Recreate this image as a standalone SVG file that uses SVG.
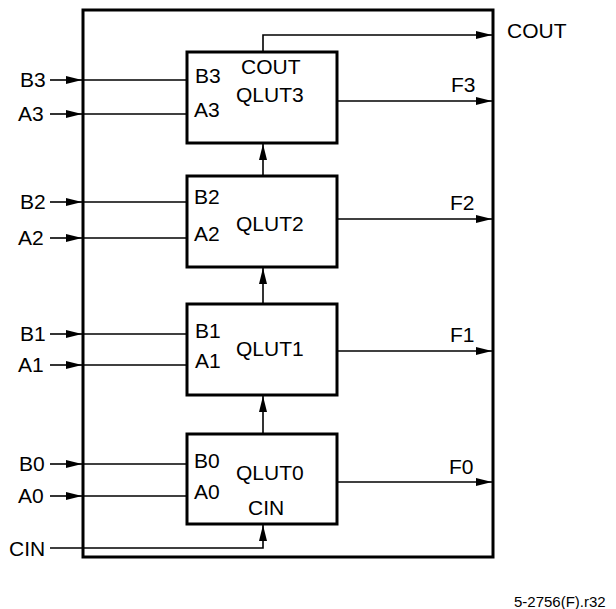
<svg xmlns="http://www.w3.org/2000/svg" width="616" height="609" viewBox="0 0 616 609">
<defs>
<style>
text{font-family:"Liberation Sans",Arial,sans-serif;font-size:21px;fill:#000}
.blk{fill:#fff;stroke:#000;stroke-width:3}
.ln{fill:none;stroke:#000;stroke-width:1.6}
.ft{font-size:15px}
</style>
<marker id="ah" viewBox="0 0 16 8" refX="16" refY="4" markerWidth="16" markerHeight="8" markerUnits="userSpaceOnUse" orient="auto">
<path d="M0,0L16,4L0,8Z" fill="#000"/>
</marker>
</defs>
<rect id="outer" x="83" y="10" width="410" height="547" fill="none" stroke="#000" stroke-width="3"/>
<g id="connectors">
<line class="ln" x1="50" y1="80" x2="82" y2="80" marker-end="url(#ah)"/>
<line class="ln" x1="82" y1="80" x2="187" y2="80"/>
<line class="ln" x1="50" y1="114" x2="82" y2="114" marker-end="url(#ah)"/>
<line class="ln" x1="82" y1="114" x2="187" y2="114"/>
<line class="ln" x1="50" y1="202" x2="82" y2="202" marker-end="url(#ah)"/>
<line class="ln" x1="82" y1="202" x2="187" y2="202"/>
<line class="ln" x1="50" y1="238" x2="82" y2="238" marker-end="url(#ah)"/>
<line class="ln" x1="82" y1="238" x2="187" y2="238"/>
<line class="ln" x1="50" y1="334" x2="82" y2="334" marker-end="url(#ah)"/>
<line class="ln" x1="82" y1="334" x2="187" y2="334"/>
<line class="ln" x1="50" y1="365" x2="82" y2="365" marker-end="url(#ah)"/>
<line class="ln" x1="82" y1="365" x2="187" y2="365"/>
<line class="ln" x1="50" y1="464" x2="82" y2="464" marker-end="url(#ah)"/>
<line class="ln" x1="82" y1="464" x2="187" y2="464"/>
<line class="ln" x1="50" y1="496" x2="82" y2="496" marker-end="url(#ah)"/>
<line class="ln" x1="82" y1="496" x2="187" y2="496"/>
<polyline class="ln" points="50,548 263,548 263,525" marker-end="url(#ah)"/>
<line class="ln" x1="263" y1="434" x2="263" y2="396" marker-end="url(#ah)"/>
<line class="ln" x1="263" y1="304" x2="263" y2="268" marker-end="url(#ah)"/>
<line class="ln" x1="263" y1="176" x2="263" y2="144" marker-end="url(#ah)"/>
<polyline class="ln" points="263,52 263,35 492,35" marker-end="url(#ah)"/>
<line class="ln" x1="337" y1="101" x2="492" y2="101" marker-end="url(#ah)"/>
<line class="ln" x1="337" y1="219" x2="492" y2="219" marker-end="url(#ah)"/>
<line class="ln" x1="337" y1="351" x2="492" y2="351" marker-end="url(#ah)"/>
<line class="ln" x1="337" y1="482" x2="492" y2="482" marker-end="url(#ah)"/>
</g>
<g id="qlut3">
<rect class="blk" x="187" y="52" width="150" height="91"/>
<text x="241" y="74">COUT</text>
<text x="236" y="102">QLUT3</text>
<text x="195" y="83">B3</text>
<text x="194" y="117">A3</text>
</g>
<g id="qlut2">
<rect class="blk" x="187" y="176" width="150" height="91"/>
<text x="236" y="231">QLUT2</text>
<text x="194" y="204">B2</text>
<text x="194" y="241">A2</text>
</g>
<g id="qlut1">
<rect class="blk" x="187" y="304" width="150" height="91"/>
<text x="236" y="356">QLUT1</text>
<text x="195" y="338">B1</text>
<text x="195" y="368">A1</text>
</g>
<g id="qlut0">
<rect class="blk" x="187" y="434" width="150" height="90"/>
<text x="236" y="480">QLUT0</text>
<text x="194" y="468">B0</text>
<text x="194" y="499">A0</text>
<text x="248" y="515">CIN</text>
</g>
<g id="labels">
<text x="20" y="87">B3</text>
<text x="18" y="121">A3</text>
<text x="20" y="209">B2</text>
<text x="18" y="245">A2</text>
<text x="20" y="341">B1</text>
<text x="18" y="372">A1</text>
<text x="19" y="471">B0</text>
<text x="18" y="503">A0</text>
<text x="9" y="556">CIN</text>
<text x="507" y="38">COUT</text>
<text x="451" y="92">F3</text>
<text x="450" y="210">F2</text>
<text x="450" y="342">F1</text>
<text x="449" y="474">F0</text>
<text class="ft" x="514" y="607">5-2756(F).r32</text>
</g>
</svg>
